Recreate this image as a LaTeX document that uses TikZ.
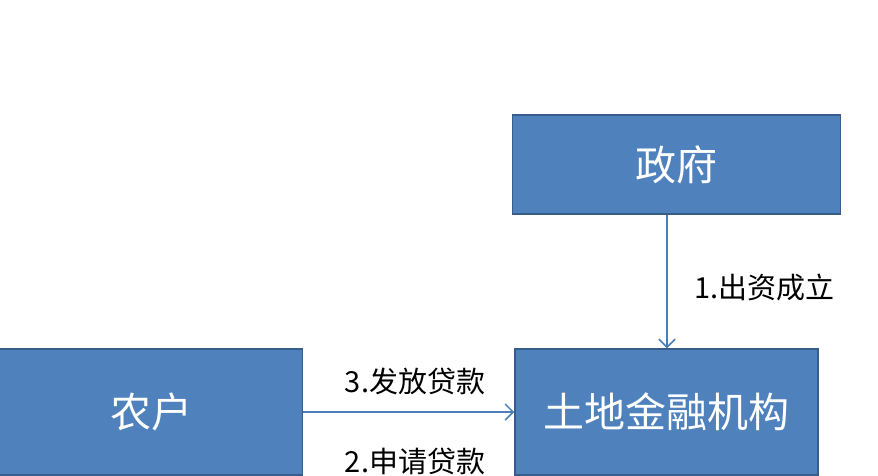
\documentclass[tikz,border=0pt]{standalone}
\usepackage{fontspec}
\newfontfamily\cjk{Noto Sans CJK SC}
\usetikzlibrary{arrows.meta}
\definecolor{boxfill}{HTML}{4F81BD}
\definecolor{boxline}{HTML}{385D8A}
\definecolor{arrowc}{HTML}{4A7EBB}
\begin{document}
\begin{tikzpicture}[x=1pt,y=-1pt,
  box/.style={draw=boxline, line width=1.5pt, fill=boxfill, text=white,
    font=\cjk\fontsize{41}{41}\selectfont, inner sep=0pt, minimum width=303pt},
  lbl/.style={text=black, font=\cjk\fontsize{29}{29}\selectfont, inner sep=0pt},
  conn/.style={draw=arrowc, line width=1.5pt, -{Straight Barb[length=8pt,width=16pt,line width=1.5pt]}}]
\useasboundingbox (0,0) rectangle (878,475);
\clip (0,0) rectangle (878,475);
\fill[white] (0,0) rectangle (878,475);
\node[box, minimum width=328pt, minimum height=99pt] (gov) at (676.5,164.5) {政府};
\node[box, minimum height=126pt] (farm) at (151,412) {农户};
\node[box, minimum height=126pt] (inst) at (666.5,412) {土地金融机构};
\draw[conn] (gov.south -| 667,0) -- (inst.north -| 667,0);
\draw[conn] (farm.east) -- (inst.west);
\node[lbl, anchor=west] (l1) at (694,287) {1.出资成立};
\node[lbl] (l3) at (415,381) {3.发放贷款};
\node[lbl] (l2) at (415,461) {2.申请贷款};
\end{tikzpicture}
\end{document}
